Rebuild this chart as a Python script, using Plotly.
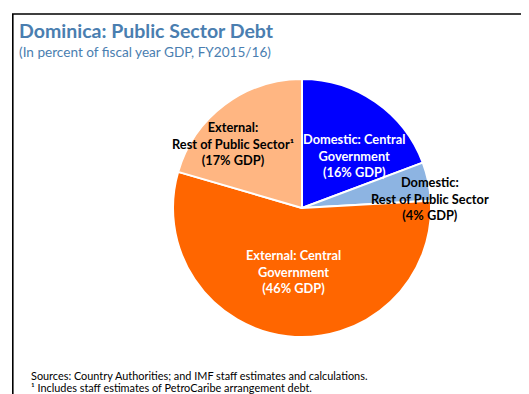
import plotly.graph_objects as go

OFF = 8  # default page margin of the html body
W, H = 529 - OFF, 394 - OFF

categories = ["Domestic: Central Government", "Domestic: Rest of Public Sector",
              "External: Central Government", "External: Rest of Public Sector"]
values = [16, 4, 46, 17]
colors = ["#0000FF", "#8DB4E2", "#FF6600", "#FFB682"]
label_text = [
    "Domestic: Central<br>Government<br>(16% GDP)",
    "Domestic:<br>Rest of Public Sector<br>(4% GDP)",
    "External: Central<br>Government<br>(46% GDP)",
    "External:<br>Rest of Public Sector\u00b9<br>(17% GDP)",
]
label_colors = ["white", "black", "white", "black"]
label_px = [(354, 155), (430, 198), (293, 271), (233, 144)]

title = "Dominica: Public Sector Debt"
subtitle = "(In percent of fiscal year GDP, FY2015/16)"
notes = ["Sources: Country Authorities; and IMF staff estimates and calculations.",
         "\u00b9 Includes staff estimates of PetroCaribe arrangement debt."]


def px(x):
    return (x - OFF) / W


def py(y):
    return 1 - (y - OFF) / H


cx, cy, r = 302, 208, 129

fig = go.Figure(go.Pie(
    labels=categories, values=values, sort=False, direction="clockwise",
    rotation=0, marker=dict(colors=colors, line=dict(color="white", width=2)),
    textinfo="none", hoverinfo="label+value", showlegend=False,
    domain=dict(x=[px(cx - r), px(cx + r)], y=[py(cy + r), py(cy - r)]),
))

ann = []
for t, c, (lx, ly) in zip(label_text, label_colors, label_px):
    ann.append(dict(text="<b>" + t + "</b>", x=px(lx), y=py(ly), xref="paper", yref="paper",
                    showarrow=False, xanchor="center", yanchor="middle",
                    font=dict(family="Lato", size=12.8, color=c), align="center"))
ann.append(dict(text="<b>" + title + "</b>", x=px(17), y=py(31), xref="paper", yref="paper",
                showarrow=False, xanchor="left", yanchor="middle",
                font=dict(family="Lato", size=19.5, color="#4A7EB0")))
ann.append(dict(text=subtitle, x=px(17), y=py(52), xref="paper", yref="paper",
                showarrow=False, xanchor="left", yanchor="middle",
                font=dict(family="Lato", size=13.6, color="#4A7EB0")))
for i, n in enumerate(notes):
    ann.append(dict(text=n, x=px(29), y=py(375 + 12 * i), xref="paper", yref="paper",
                    showarrow=False, xanchor="left", yanchor="middle",
                    font=dict(family="Lato", size=10.9, color="black")))

fig.update_layout(
    width=W, height=H, margin=dict(l=0, r=0, t=0, b=0),
    paper_bgcolor="white", plot_bgcolor="white",
    annotations=ann,
    shapes=[dict(type="rect", xref="paper", yref="paper",
                 x0=px(12.8), x1=1.05, y0=-0.05, y1=py(14),
                 line=dict(color="black", width=1.6))],
)

fig.write_html("out.html")
